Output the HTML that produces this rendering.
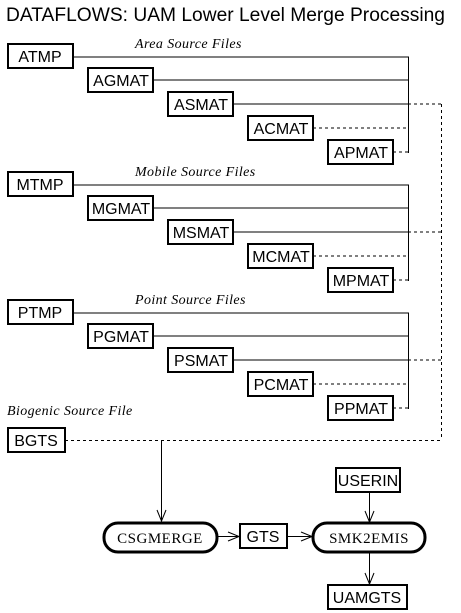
<!DOCTYPE html>
<html><head><meta charset="utf-8"><style>
html,body{margin:0;padding:0;background:#fff;}
svg{display:block;}
.t{font-family:"Liberation Sans",sans-serif;font-size:16px;fill:#000;}
.i{font-family:"Liberation Serif",serif;font-style:italic;font-size:14px;fill:#000;letter-spacing:0.4px;}
.s{font-family:"Liberation Serif",serif;font-size:15px;fill:#000;letter-spacing:0.5px;}
</style></head><body>
<svg width="461" height="613" viewBox="0 0 461 613" xmlns="http://www.w3.org/2000/svg">
<defs>
<g id="grp">
  <line x1="73" y1="57" x2="409" y2="57" stroke="#000"/>
  <line x1="153" y1="80" x2="409" y2="80" stroke="#000"/>
  <line x1="233" y1="104" x2="408" y2="104" stroke="#000"/>
  <line x1="408" y1="104" x2="441" y2="104" stroke="#000" stroke-dasharray="3,3"/>
  <line x1="313" y1="128" x2="408" y2="128" stroke="#000" stroke-dasharray="3,3"/>
  <line x1="393" y1="152" x2="408" y2="152" stroke="#000" stroke-dasharray="3,3"/>
  <line x1="408.5" y1="57" x2="408.5" y2="153" stroke="#000"/>
</g>
</defs>
<text x="6" y="21" class="t" style="font-size:19px" textLength="439" lengthAdjust="spacingAndGlyphs">DATAFLOWS:  UAM Lower Level Merge Processing</text>

<use href="#grp"/>
<use href="#grp" y="128"/>
<use href="#grp" y="256"/>
<line x1="441.5" y1="104" x2="441.5" y2="440" stroke="#000" stroke-dasharray="3,3"/>
<line x1="65" y1="440.5" x2="441" y2="440.5" stroke="#000" stroke-dasharray="3,3"/>

<text x="135" y="48" class="i">Area Source Files</text>
<text x="135" y="176" class="i">Mobile Source Files</text>
<text x="135" y="304" class="i">Point Source Files</text>
<text x="7" y="415" class="i">Biogenic Source File</text>

<g fill="#fff" stroke="#000" stroke-width="2">
<rect x="8" y="44" width="65" height="24"/>
<rect x="88" y="68" width="65" height="24"/>
<rect x="168" y="92" width="65" height="24"/>
<rect x="248" y="116" width="65" height="24"/>
<rect x="328" y="140" width="65" height="24"/>
<rect x="8" y="172" width="65" height="24"/>
<rect x="88" y="196" width="65" height="24"/>
<rect x="168" y="220" width="65" height="24"/>
<rect x="248" y="244" width="65" height="24"/>
<rect x="328" y="268" width="65" height="24"/>
<rect x="8" y="300" width="65" height="24"/>
<rect x="88" y="324" width="65" height="24"/>
<rect x="168" y="348" width="65" height="24"/>
<rect x="248" y="372" width="65" height="24"/>
<rect x="328" y="396" width="65" height="24"/>
<rect x="8" y="428" width="57" height="24"/>
<rect x="336" y="468" width="64" height="24"/>
<rect x="240" y="524" width="47" height="24"/>
<rect x="328" y="585" width="79" height="24"/>
<rect x="104" y="523" width="113" height="29" rx="14" stroke-width="3"/>
<rect x="313" y="523" width="112" height="29" rx="14" stroke-width="3"/>
</g>
<g class="t" text-anchor="middle">
<text x="40" y="62">ATMP</text><text x="121" y="86">AGMAT</text><text x="201" y="110">ASMAT</text><text x="281" y="134">ACMAT</text><text x="361" y="158">APMAT</text>
<text x="40" y="190">MTMP</text><text x="121" y="214">MGMAT</text><text x="201" y="238">MSMAT</text><text x="281" y="262">MCMAT</text><text x="361" y="286">MPMAT</text>
<text x="40" y="318">PTMP</text><text x="121" y="342">PGMAT</text><text x="201" y="366">PSMAT</text><text x="281" y="390">PCMAT</text><text x="361" y="414">PPMAT</text>
<text x="36" y="446">BGTS</text>
<text x="368" y="486">USERIN</text>
<text x="263" y="542">GTS</text>
<text x="367" y="603">UAMGTS</text>
</g>
<text x="160" y="543" class="s" text-anchor="middle">CSGMERGE</text>
<text x="369" y="543" class="s" text-anchor="middle">SMK2EMIS</text>

<g stroke="#000" fill="none">
<line x1="161.5" y1="440" x2="161.5" y2="521"/>
<polyline points="157,510 161.5,521 166,510"/>
<line x1="217" y1="536.5" x2="239" y2="536.5"/>
<polyline points="228,532 239,536.5 228,541"/>
<line x1="287" y1="536.5" x2="312" y2="536.5"/>
<polyline points="301,532 312,536.5 301,541"/>
<line x1="369.5" y1="492" x2="369.5" y2="522"/>
<polyline points="365,511 369.5,522 374,511"/>
<line x1="369.5" y1="553" x2="369.5" y2="584"/>
<polyline points="365,573 369.5,584 374,573"/>
</g>
</svg>
</body></html>
